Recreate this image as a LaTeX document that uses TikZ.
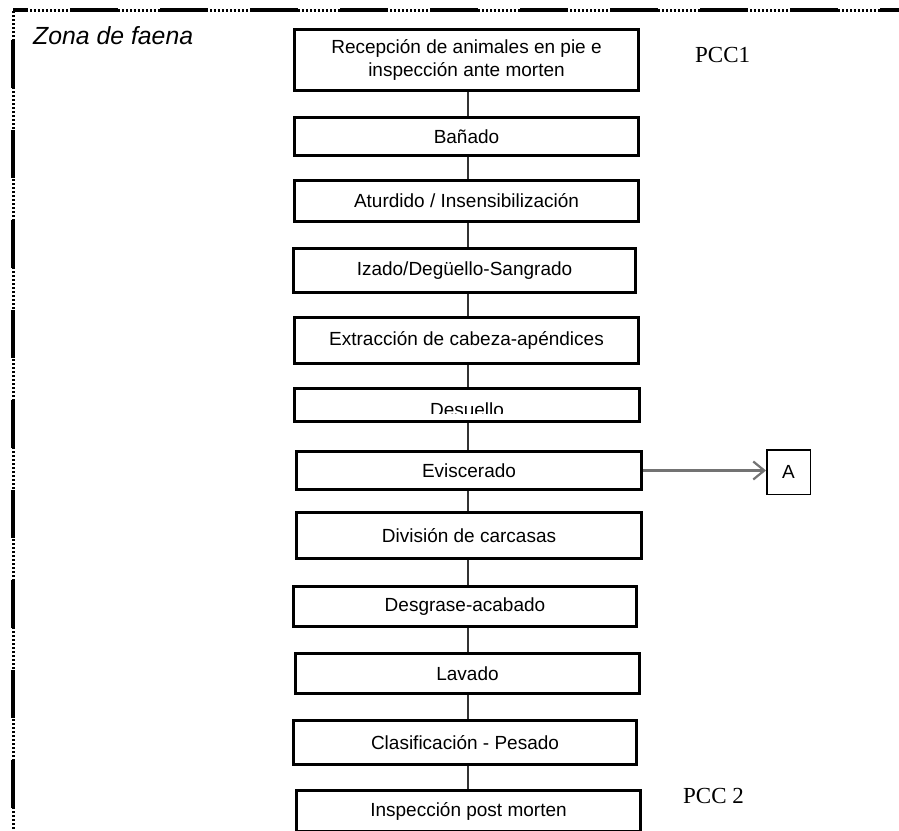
\documentclass[tikz,border=0pt]{standalone}
\usepackage{fontspec}
\setmainfont{Liberation Sans}
\newfontfamily\pccfont{Liberation Serif}
\usetikzlibrary{arrows.meta}

\begin{document}
\begin{tikzpicture}[x=1pt,y=-1pt,
  boxfont/.style={font=\fontsize{19}{23}\selectfont},
  stepbox/.style={draw=black, line width=3pt, fill=white, inner sep=0pt,
    align=center, boxfont},
  link/.style={draw=black!80, line width=2.4pt},
  flowarrow/.style={draw=black!55, line width=2.4pt,
    -{Straight Barb[length=11pt,width=18pt,line width=2.2pt]}},
  pcc/.style={anchor=base west, inner sep=0pt,
    font=\pccfont\fontsize{23}{26}\selectfont},
  frameline/.style={line width=3.4pt, dash pattern=on 48pt off 42pt},
  framedots/.style={line width=3pt, dash pattern=on 2.2pt off 1.8pt}
]
\useasboundingbox (0,0) rectangle (899,830);

% zone frame: long dashes with runs of dots between them
\draw[framedots] (13,845) -- (13,10) -- (905,10);
\draw[frameline, dash phase=33pt] (13,10) -- (905,10);
\draw[frameline, dash phase=60pt] (13,10) -- (13,845);

\node[anchor=base west, inner sep=0pt,
  font=\itshape\fontsize{24.8}{28}\selectfont] (zona) at (33,44) {Zona de faena};

% x position of the vertical flow line
\coordinate (spine) at (468,0);

% process steps
\node[stepbox, minimum width=344pt, minimum height=61pt] (b1) at (466.5,60)
  {Recepción de animales en pie e\\inspección ante morten};
\node[stepbox, minimum width=344pt, minimum height=38pt] (b2) at (466.5,136.5) {Bañado};
\node[stepbox, minimum width=344pt, minimum height=41pt] (b3) at (466.5,201) {Aturdido / Insensibilización};
\node[stepbox, minimum width=342pt, minimum height=44pt] (b4) at (464.5,270.5) {Izado/Degüello-Sangrado};
\node[stepbox, minimum width=344pt, minimum height=46pt] (b5) at (466.5,340.5) {Extracción de cabeza-apéndices};
\node[stepbox, minimum width=345pt, minimum height=33pt] (b6) at (467,405) {};
\begin{scope}
  \clip (295,389) rectangle (639,413);
  \node[boxfont, anchor=base, inner sep=0pt] (t6) at (467,416) {Desuello};
\end{scope}
\node[stepbox, minimum width=345pt, minimum height=38pt] (b7) at (469,470.5) {Eviscerado};
\node[stepbox, minimum width=345pt, minimum height=46pt] (b8) at (469,535.5) {División de carcasas};
\node[stepbox, minimum width=343pt, minimum height=40pt] (b9) at (465,606.5) {Desgrase-acabado};
\node[stepbox, minimum width=344pt, minimum height=40pt] (b10) at (467.5,673.5) {Lavado};
\node[stepbox, minimum width=343pt, minimum height=44pt] (b11) at (465,742.5) {Clasificación - Pesado};
\node[stepbox, minimum width=344pt, minimum height=41pt] (b12) at (468.5,811) {Inspección post morten};

% connectors between consecutive steps
\foreach \a/\b in {b1/b2,b2/b3,b3/b4,b4/b5,b5/b6,b6/b7,b7/b8,b8/b9,b9/b10,b10/b11,b11/b12}
  \draw[link] (\a.south -| spine) -- (\b.north -| spine);

% off-page connector
\node[draw=black, line width=1.5pt, minimum width=43.5pt, minimum height=44.5pt,
  inner sep=0pt, boxfont] (A) at (788.5,472) {A};
\draw[flowarrow] (b7.east) -- (b7.east -| A.west);

% critical control points
\node[pcc] (pcc1) at (695,62) {PCC1};
\node[pcc] (pcc2) at (683,803) {PCC 2};
\end{tikzpicture}
\end{document}
